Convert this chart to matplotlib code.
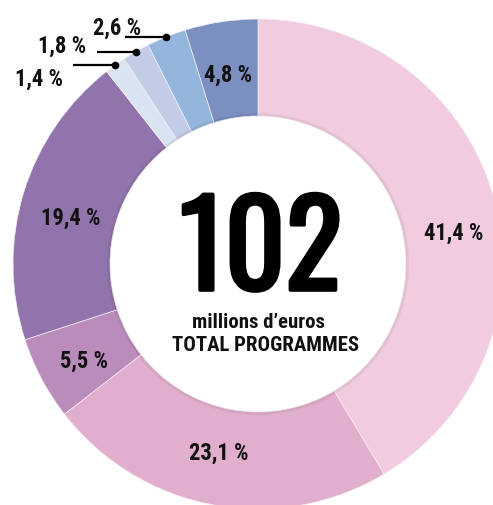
import matplotlib
matplotlib.use("Agg")
import matplotlib.pyplot as plt
import matplotlib.patheffects as pe
import numpy as np
from matplotlib.font_manager import FontProperties, findfont
from matplotlib.patches import Circle
from matplotlib.textpath import TextPath

# ---- data (clockwise from 12 o'clock) ----
shares = [41.4, 23.1, 5.5, 19.4, 1.4, 1.8, 2.6, 4.8]
labels = ["41,4 %", "23,1 %", "5,5 %", "19,4 %", "1,4 %", "1,8 %", "2,6 %", "4,8 %"]
colors = ["#F1CBDF", "#E1AECD", "#BA8CBB", "#9274AD",
          "#D9E3F1", "#C1CDE6", "#94B5DC", "#7B8FC1"]
total_text = "102"
unit_text = "millions d\u2019euros"
caption_text = "TOTAL PROGRAMMES"

# ---- layout (pixel space, y measured from the top of the image) ----
W, H = 493, 506
CX, CY = 258, H - 265
R_OUT, R_IN = 245, 148

# label anchor: (centre x, baseline y)
label_pos = [(454, 240), (219, 460), (84, 368), (71, 225),
             (39, 86), (62, 53), (117, 35), (228, 82)]
leader_start = {4: 73, 5: 97, 6: 125}   # x where the leader line begins
LAB_WEIGHT = 800


def pick_family(cands, weight):
    for fam in cands:
        try:
            findfont(FontProperties(family=fam, weight=weight), fallback_to_default=False)
            return fam
        except ValueError:
            pass
    return "DejaVu Sans"


def fit_size(text, fam, weight, ink_w, ink_h, probe):
    """font size (pt @100dpi) halfway (geometric) between width-fit and height-fit"""
    fp = FontProperties(family=fam, weight=weight)
    w100 = TextPath((0, 0), text, size=100, prop=fp).get_extents().width
    h100 = TextPath((0, 0), probe, size=100, prop=fp).get_extents().height
    s_w = ink_w * 72 / w100
    s_h = ink_h * 72 / h100
    return (s_w * s_h) ** 0.5


LAB_FONT = pick_family(["Roboto Condensed", "Barlow Condensed", "PT Sans Narrow",
                        "Liberation Sans Narrow", "DejaVu Sans"], LAB_WEIGHT)
BIG_FONT = pick_family(["Oswald", "Antonio", "Barlow Condensed",
                        "Roboto Condensed", "DejaVu Sans"], "bold")

lab_size = fit_size("41,4 %", LAB_FONT, LAB_WEIGHT, 58, 16, "4")
big_size = fit_size(total_text, BIG_FONT, "bold", 146, 103, "0")
unit_size = fit_size(unit_text, LAB_FONT, LAB_WEIGHT, 144, 15, "l")
cap_size = fit_size(caption_text, LAB_FONT, LAB_WEIGHT, 163, 16, "T")
sub_size = (unit_size + cap_size) / 2

fig = plt.figure(figsize=(W / 100, H / 100), dpi=100)
ax = fig.add_axes([0, 0, 1, 1])
wedges, _ = ax.pie(shares, colors=colors, startangle=90, counterclock=False,
                   center=(CX, CY), radius=R_OUT,
                   wedgeprops=dict(width=R_OUT - R_IN, edgecolor="#f6eff5", linewidth=0.5))
# faint shadow along the inner edge of the ring
for k in range(4):
    ax.add_patch(Circle((CX, CY), R_IN + 0.8 * k + 0.4, fill=False,
                        edgecolor="#000000", lw=0.9, alpha=0.05 - 0.01 * k))
ax.set_xlim(0, W)
ax.set_ylim(0, H)
ax.set_aspect("equal")
ax.axis("off")

for i, (w, lab) in enumerate(zip(wedges, labels)):
    x, y = label_pos[i]
    ax.text(x, H - y, lab, ha="center", va="baseline", fontsize=lab_size,
            fontweight=LAB_WEIGHT, family=LAB_FONT, color="#111111")
    if i in leader_start:
        mid = np.deg2rad((w.theta1 + w.theta2) / 2)
        dx = CX + R_OUT * np.cos(mid)
        dy = CY + R_OUT * np.sin(mid)
        ax.plot([leader_start[i], dx], [dy, dy], color="black", lw=1.6,
                solid_capstyle="butt")
        ax.plot([dx], [dy], "o", color="black", ms=4.5)

# centre block ("102" thickened a little with a stroke of its own colour)
ax.text(261, H - 291, total_text, ha="center", va="baseline", fontsize=big_size,
        fontweight="bold", family=BIG_FONT, color="black",
        path_effects=[pe.withStroke(linewidth=2.6, foreground="black")])
ax.text(259, H - 328, unit_text, ha="center", va="baseline", fontsize=sub_size,
        fontweight=LAB_WEIGHT, family=LAB_FONT, color="#111111")
ax.text(266, H - 351, caption_text, ha="center", va="baseline", fontsize=sub_size,
        fontweight=LAB_WEIGHT, family=LAB_FONT, color="#111111")

fig.savefig("out.png", dpi=100)
